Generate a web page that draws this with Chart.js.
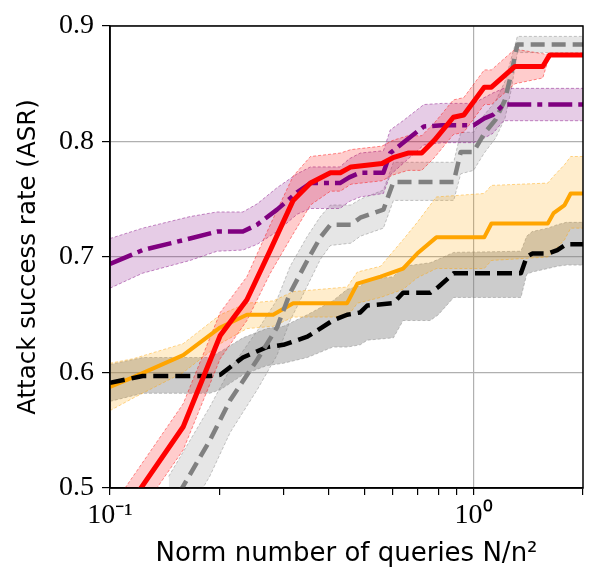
<!DOCTYPE html>
<html>
<head>
<meta charset="utf-8">
<script src="https://cdn.jsdelivr.net/npm/chart.js@4.4.1/dist/chart.umd.min.js"></script>
<style>
    html, body { margin: 0; padding: 0; background: #fff; }
    #wrap { width: 598px; height: 588px; }
</style>
</head>
<body>
<div id="wrap"><canvas id="grafico-asr" width="598" height="588"></canvas></div>
<script>
// ticks
var xTicks = [0.1, 0.2, 0.3, 0.4, 0.5, 0.6, 0.7, 0.8, 0.9, 1, 2];
var xTickLabels = { 0.1: "10\u207B\u00B9", 1: "10\u2070" };
var yTicks = [0.5, 0.6, 0.7, 0.8, 0.9];

// red solid
var redX = [0.11, 0.159, 0.201, 0.238, 0.276, 0.319, 0.356, 0.404, 0.43, 0.46, 0.56, 0.6, 0.66, 0.72, 0.78, 0.88, 0.94, 1.07, 1.12, 1.3, 1.55, 1.62, 2.0];
var redY = [0.48, 0.553, 0.632, 0.663, 0.706, 0.749, 0.764, 0.773, 0.773, 0.778, 0.781, 0.786, 0.79, 0.79, 0.801, 0.821, 0.823, 0.847, 0.847, 0.865, 0.865, 0.875, 0.875];
var redLo = [0.46, 0.533, 0.612, 0.645, 0.686, 0.72, 0.745, 0.757, 0.757, 0.763, 0.766, 0.771, 0.775, 0.775, 0.786, 0.806, 0.808, 0.832, 0.832, 0.85, 0.855, 0.875, 0.875];
var redHi = [0.50, 0.573, 0.652, 0.683, 0.728, 0.77, 0.787, 0.789, 0.79, 0.793, 0.796, 0.801, 0.805, 0.805, 0.816, 0.836, 0.838, 0.862, 0.862, 0.88, 0.876, 0.875, 0.875];

// purple dash-dot
var purpleX = [0.1, 0.123, 0.166, 0.197, 0.232, 0.254, 0.288, 0.327, 0.356, 0.429, 0.455, 0.488, 0.565, 0.59, 0.64, 0.73, 0.82, 1.0, 1.07, 1.13, 1.21, 2.0];
var purpleY = [0.694, 0.706, 0.716, 0.722, 0.722, 0.728, 0.741, 0.756, 0.764, 0.764, 0.769, 0.773, 0.773, 0.79, 0.799, 0.813, 0.814, 0.814, 0.82, 0.823, 0.832, 0.832];
var purpleLo = [0.673, 0.686, 0.697, 0.705, 0.706, 0.711, 0.722, 0.737, 0.742, 0.742, 0.748, 0.752, 0.755, 0.771, 0.781, 0.797, 0.799, 0.799, 0.803, 0.807, 0.818, 0.818];
var purpleHi = [0.716, 0.725, 0.735, 0.739, 0.739, 0.746, 0.76, 0.772, 0.778, 0.778, 0.785, 0.79, 0.792, 0.81, 0.818, 0.832, 0.833, 0.833, 0.838, 0.842, 0.846, 0.846];

// gray dashed
var grayX = [0.145, 0.188, 0.214, 0.254, 0.288, 0.313, 0.349, 0.379, 0.404, 0.46, 0.488, 0.565, 0.602, 0.882, 0.922, 1.0, 1.07, 1.15, 1.22, 1.27, 1.32, 2.0];
var grayY = [0.48, 0.541, 0.576, 0.611, 0.639, 0.669, 0.697, 0.717, 0.728, 0.728, 0.734, 0.741, 0.765, 0.765, 0.791, 0.791, 0.807, 0.819, 0.836, 0.859, 0.884, 0.884];
var grayLo = [0.45, 0.51, 0.548, 0.585, 0.615, 0.645, 0.675, 0.698, 0.71, 0.712, 0.718, 0.725, 0.749, 0.749, 0.772, 0.775, 0.79, 0.803, 0.82, 0.845, 0.877, 0.877];
var grayHi = [0.51, 0.57, 0.603, 0.636, 0.663, 0.692, 0.718, 0.735, 0.745, 0.745, 0.75, 0.758, 0.782, 0.782, 0.808, 0.808, 0.823, 0.835, 0.852, 0.872, 0.891, 0.891];

// orange solid
var orangeX = [0.1, 0.116, 0.159, 0.201, 0.238, 0.281, 0.319, 0.449, 0.479, 0.555, 0.64, 0.7, 0.79, 1.07, 1.12, 1.6, 1.66, 1.78, 1.85, 2.0];
var orangeY = [0.5875, 0.596, 0.615, 0.639, 0.65, 0.65, 0.66, 0.66, 0.677, 0.683, 0.69, 0.703, 0.717, 0.717, 0.729, 0.729, 0.738, 0.745, 0.755, 0.755];
var orangeLo = [0.567, 0.578, 0.6, 0.625, 0.638, 0.64, 0.648, 0.648, 0.66, 0.665, 0.672, 0.682, 0.69, 0.69, 0.697, 0.7, 0.705, 0.715, 0.725, 0.725];
var orangeHi = [0.608, 0.612, 0.625, 0.65, 0.66, 0.662, 0.67, 0.674, 0.687, 0.692, 0.715, 0.73, 0.752, 0.755, 0.762, 0.764, 0.77, 0.78, 0.787, 0.787];

// black dashed
var blackX = [0.1, 0.123, 0.188, 0.201, 0.232, 0.27, 0.3, 0.349, 0.41, 0.449, 0.488, 0.51, 0.602, 0.64, 0.76, 0.8, 0.882, 1.35, 1.4, 1.45, 1.6, 1.7, 1.8, 2.0];
var blackY = [0.591, 0.597, 0.597, 0.598, 0.613, 0.622, 0.624, 0.631, 0.645, 0.65, 0.652, 0.658, 0.66, 0.669, 0.669, 0.674, 0.686, 0.686, 0.7, 0.703, 0.703, 0.706, 0.711, 0.711];
var blackLo = [0.575, 0.582, 0.582, 0.585, 0.598, 0.606, 0.608, 0.613, 0.622, 0.622, 0.624, 0.628, 0.63, 0.645, 0.645, 0.65, 0.665, 0.665, 0.685, 0.687, 0.69, 0.692, 0.693, 0.693];
var blackHi = [0.607, 0.613, 0.613, 0.618, 0.63, 0.638, 0.64, 0.65, 0.662, 0.672, 0.675, 0.68, 0.683, 0.692, 0.695, 0.698, 0.704, 0.705, 0.718, 0.722, 0.725, 0.728, 0.73, 0.73];

function puntos(xs, ys) {
    return xs.map(function (x, i) { return { x: x, y: ys[i] }; });
}

var datasets = [];

// upper edge then lower edge filled back to it
function agregarBanda(xs, lo, hi, rgb, alpha, order) {
    datasets.push({
        data: puntos(xs, hi),
        borderColor: 'rgba(' + rgb + ',0.45)',
        borderWidth: 1,
        borderDash: [3, 2],
        pointRadius: 0,
        fill: false,
        clip: 0,
        order: order
    });
    datasets.push({
        data: puntos(xs, lo),
        borderColor: 'rgba(' + rgb + ',0.45)',
        borderWidth: 1,
        borderDash: [3, 2],
        pointRadius: 0,
        fill: '-1',
        backgroundColor: 'rgba(' + rgb + ',' + alpha + ')',
        clip: 0,
        order: order
    });
}

function agregarLinea(xs, ys, color, dash, width, order) {
    datasets.push({
        data: puntos(xs, ys),
        borderColor: color,
        borderWidth: width,
        borderDash: dash,
        borderCapStyle: 'butt',
        borderJoinStyle: 'round',
        pointRadius: 0,
        fill: false,
        clip: 0,
        order: order
    });
}

agregarBanda(blackX, blackLo, blackHi, '128,128,128', 0.4, 25);
agregarBanda(grayX, grayLo, grayHi, '128,128,128', 0.2, 24);
agregarBanda(orangeX, orangeLo, orangeHi, '255,165,0', 0.2, 23);
agregarBanda(purpleX, purpleLo, purpleHi, '128,0,128', 0.2, 22);
agregarBanda(redX, redLo, redHi, '255,0,0', 0.2, 21);

agregarLinea(orangeX, orangeY, '#ffa500', [], 4, 6);
agregarLinea(blackX, blackY, '#000000', [15, 7], 4.5, 5);
agregarLinea(grayX, grayY, '#808080', [14, 7], 4.5, 4);
agregarLinea(purpleX, purpleY, '#800080', [24, 6, 5, 6], 4.5, 3);
agregarLinea(redX, redY, '#ff0000', [], 5, 2);

var marco = {
    id: 'marco',
    afterDraw: function (chart) {
        var a = chart.chartArea;
        var ctx = chart.ctx;
        ctx.save();
        ctx.strokeStyle = '#000';
        ctx.lineWidth = 1.5;
        ctx.strokeRect(a.left, a.top, a.right - a.left, a.bottom - a.top);
        ctx.restore();
    }
};

const ctx = document.getElementById("grafico-asr");
var myChart = new Chart(ctx, {
    type: 'line',
    data: { datasets: datasets },
    plugins: [marco],
    options: {
        responsive: false,
        animation: false,
        layout: { padding: { top: 26, right: 15, left: 0, bottom: 0 } },
        plugins: {
            legend: { display: false },
            tooltip: { enabled: false },
            filler: { propagate: false }
        },
        elements: { line: { tension: 0 } },
        scales: {
            x: {
                type: 'logarithmic',
                min: 0.1,
                max: 2,
                afterBuildTicks: function (scale) {
                    scale.ticks = xTicks.map(function (v) { return { value: v }; });
                },
                afterFit: function (scale) { scale.height = 100; },
                ticks: {
                    autoSkip: false,
                    maxRotation: 0,
                    padding: 4,
                    color: '#000',
                    font: { family: 'Liberation Serif', size: 28 },
                    callback: function (v) { return xTickLabels[v] || ''; }
                },
                grid: {
                    color: function (c) { return (c.tick && (c.tick.value === 0.1 || c.tick.value === 1)) ? '#b0b0b0' : 'rgba(0,0,0,0)'; },
                    lineWidth: 1.2,
                    tickColor: '#000',
                    tickLength: 7,
                    tickWidth: 1.2
                },
                border: { color: '#000', width: 1.5 },
                title: {
                    display: true,
                    text: 'Norm number of queries N/n\u00B2',
                    color: '#000',
                    font: { family: 'DejaVu Sans', size: 26 },
                    padding: { top: 0, bottom: 18 }
                }
            },
            y: {
                min: 0.5,
                max: 0.9,
                afterBuildTicks: function (scale) {
                    scale.ticks = yTicks.map(function (v) { return { value: v }; });
                },
                afterFit: function (scale) { scale.width = 110; },
                ticks: {
                    padding: 8,
                    color: '#000',
                    font: { family: 'Liberation Serif', size: 28 },
                    callback: function (v) { return v.toFixed(1); }
                },
                grid: {
                    color: '#b0b0b0',
                    lineWidth: 1.2,
                    tickColor: '#000',
                    tickLength: 8,
                    tickWidth: 1.2
                },
                border: { color: '#000', width: 1.5 },
                title: {
                    display: true,
                    text: 'Attack success rate (ASR)',
                    color: '#000',
                    font: { family: 'DejaVu Sans', size: 24.5 },
                    padding: { top: 14, bottom: 0 }
                }
            }
        }
    }
});
</script>
</body>
</html>
